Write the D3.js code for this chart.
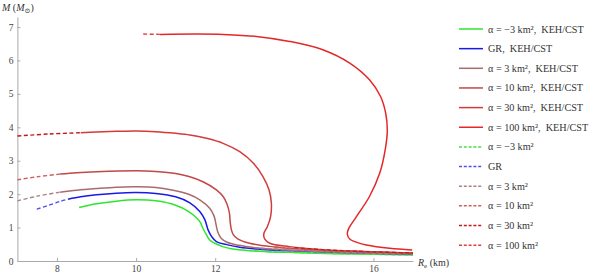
<!DOCTYPE html>
<html>
<head>
<meta charset="utf-8">
<script src="https://cdn.jsdelivr.net/npm/d3@7"></script>
<style>
  body { margin: 0; background: #fff; }
  svg { font-family: "Liberation Serif", "DejaVu Serif", serif; }
  .axis path, .axis line { stroke: #aaa; }
  .axis text { fill: #444; font-size: 9.5px; font-family: "Liberation Serif", serif; }
</style>
</head>
<body>
<div id="chart"></div>
<script>
// M-R curves, [R_e (km), M (Msun)]
const solidM3 = [[8.56,1.6],[9,1.71],[9.5,1.79],[10,1.83],[10.5,1.8],[11,1.67],[11.3,1.5],[11.6,1.2],[11.69,0.98],[11.78,0.78],[11.86,0.63],[11.99,0.53],[12.19,0.43],[12.44,0.36],[12.87,0.31],[13.3,0.28],[14.14,0.25],[15,0.22],[16,0.2],[17,0.18]];
const solidGR = [[8.28,1.85],[8.6,1.92],[9,1.98],[9.5,2.03],[10,2.05],[10.5,2.02],[11,1.92],[11.36,1.74],[11.61,1.48],[11.74,1.23],[11.82,0.93],[11.91,0.73],[12.03,0.58],[12.29,0.49],[12.62,0.41],[13.3,0.34],[14.14,0.3],[15,0.26],[16,0.23],[17,0.2]];
const solid3 = [[8.08,2.06],[8.5,2.12],[9,2.17],[9.5,2.21],[10,2.22],[10.5,2.2],[11,2.1],[11.36,1.98],[11.61,1.83],[11.86,1.58],[11.97,1.35],[12.02,1.1],[12.07,0.85],[12.15,0.68],[12.3,0.56],[12.6,0.47],[13,0.4],[13.5,0.35],[14.1,0.31],[15,0.27],[16,0.23],[17,0.21]];
const solid10 = [[8.08,2.6],[8.5,2.64],[9,2.67],[10,2.7],[10.5,2.68],[11,2.62],[11.36,2.52],[11.69,2.37],[12.03,2.13],[12.2,1.93],[12.3,1.7],[12.36,1.43],[12.38,1.15],[12.41,0.93],[12.46,0.78],[12.56,0.67],[12.87,0.53],[13.5,0.42],[14.13,0.36],[15,0.31],[16,0.27],[17,0.23]];
const solid30 = [[8.6,3.84],[9,3.86],[9.5,3.88],[10,3.89],[10.5,3.87],[11,3.82],[11.36,3.77],[11.78,3.67],[12.2,3.52],[12.62,3.27],[12.96,2.93],[13.21,2.52],[13.36,2.13],[13.42,1.73],[13.4,1.33],[13.32,1.03],[13.23,0.82],[13.25,0.66],[13.38,0.53],[13.88,0.43],[14.72,0.34],[15.57,0.29],[16.96,0.24]];
const solid100 = [[10.6,6.78],[11.5,6.79],[12.2,6.78],[13.04,6.72],[13.88,6.57],[14.72,6.32],[15.4,5.92],[15.9,5.42],[16.18,4.92],[16.31,4.42],[16.35,3.9],[16.3,3.35],[16.16,2.63],[15.9,1.93],[15.57,1.33],[15.37,0.96],[15.34,0.8],[15.4,0.66],[15.6,0.55],[15.82,0.48],[16.41,0.38],[16.98,0.33]];

const dashM3 = [[13,0.3],[14,0.255],[15,0.225],[16,0.2],[17,0.18]];
const dashGR = [[7.49,1.55],[7.8,1.67],[8.1,1.79],[8.28,1.85]];
const dashGRtail = [[13,0.36],[14,0.3],[15,0.26],[16,0.23],[17,0.2]];
const dash3 = [[7,1.8],[7.5,1.94],[8.08,2.06]];
const dash3tail = [[13,0.4],[14,0.32],[15,0.27],[16,0.23],[17,0.21]];
const dash10 = [[7,2.43],[7.5,2.52],[8.08,2.6]];
const dash10tail = [[13.5,0.42],[14.13,0.36],[15,0.31],[16,0.27],[17,0.23]];
const dash30 = [[7,3.74],[7.8,3.8],[8.6,3.84]];
const dash30tail = [[14,0.4],[14.72,0.34],[15.57,0.29],[17,0.24]];
const dash100 = [[10.18,6.79],[10.6,6.78]];

const xTicks = [8, 10, 12, 16];
const yTicks = [0, 1, 2, 3, 4, 5, 6, 7];

const solidLabels = ["α = −3 km²,\u00a0 KEH/CST", "GR,\u00a0 KEH/CST", "α = 3 km²,\u00a0 KEH/CST", "α = 10 km²,\u00a0 KEH/CST", "α = 30 km²,\u00a0 KEH/CST", "α = 100 km²,\u00a0 KEH/CST"];
const dashLabels = ["α = −3 km²", "GR", "α = 3 km²", "α = 10 km²", "α = 30 km²", "α = 100 km²"];
const solidColors = ["#2ee62e", "#1a1ae6", "#a86c6c", "#c04848", "#d43a3a", "#e42828"];
const dashColors = ["#44e044", "#5050f0", "#ac8080", "#cc6060", "#c41818", "#e23c3c"];

const width = 590, height = 277;
const svg = d3.select("#chart").append("svg")
  .attr("width", width)
  .attr("height", height);

const x = d3.scaleLinear().domain([7, 17]).range([17.4, 413]);
const y = d3.scaleLinear().domain([0, 7.3]).range([261, 17]);

// axes (ticks point inward like the original)
svg.append("g").attr("class", "axis")
  .attr("transform", `translate(0,${y(0)})`)
  .call(d3.axisBottom(x).tickValues(xTicks).tickSizeInner(-3).tickSizeOuter(0).tickPadding(4));
svg.append("g").attr("class", "axis")
  .attr("transform", `translate(${x(7)},0)`)
  .call(d3.axisLeft(y).tickValues(yTicks).tickSizeInner(-3).tickSizeOuter(0).tickPadding(4));

// axis labels
const yl = svg.append("text").attr("x", 2).attr("y", 11).attr("font-size", 10).attr("fill", "#333");
yl.append("tspan").attr("font-style", "italic").text("M");
yl.append("tspan").text(" (");
yl.append("tspan").attr("font-style", "italic").text("M");
yl.append("tspan").attr("font-size", 7).attr("dy", 2).text("⊙");
yl.append("tspan").attr("dy", -2).text(")");

const xl = svg.append("text").attr("x", 418).attr("y", 266).attr("font-size", 10).attr("fill", "#333");
xl.append("tspan").attr("font-style", "italic").text("R");
xl.append("tspan").attr("font-size", 7).attr("dy", 2).text("e");
xl.append("tspan").attr("dy", -2).text(" (km)");

const line = d3.line()
  .x(d => x(d[0]))
  .y(d => y(d[1]))
  .curve(d3.curveCatmullRom.alpha(0.5));

const solids = [solidM3, solidGR, solid3, solid10, solid30, solid100];
const dashes = [[dashM3], [dashGR, dashGRtail], [dash3, dash3tail], [dash10, dash10tail], [dash30, dash30tail], [dash100]];

svg.append("g").selectAll("path")
  .data(solids)
  .join("path")
  .attr("d", line)
  .attr("fill", "none")
  .attr("stroke", (d, i) => solidColors[i])
  .attr("stroke-width", 1.5);

dashes.forEach((parts, i) => {
  svg.append("g").selectAll("path")
    .data(parts)
    .join("path")
    .attr("d", line)
    .attr("fill", "none")
    .attr("stroke", dashColors[i])
    .attr("stroke-width", 1.4)
    .attr("stroke-dasharray", "4,2.5");
});

// legend
const legend = svg.append("g").attr("font-size", 10.2).attr("fill", "#333");
const rows = solidLabels.map((t, i) => ({ t, c: solidColors[i], dash: false }))
  .concat(dashLabels.map((t, i) => ({ t, c: dashColors[i], dash: true })));

rows.forEach((r, i) => {
  const ly = 29 + i * 19.65;
  legend.append("line")
    .attr("x1", 459).attr("x2", 483)
    .attr("y1", ly).attr("y2", ly)
    .attr("stroke", r.c)
    .attr("stroke-width", 1.5)
    .attr("stroke-dasharray", r.dash ? "3,1.8" : null);
  legend.append("text")
    .attr("x", 488).attr("y", ly + 3.5)
    .text(r.t);
});
</script>
</body>
</html>
